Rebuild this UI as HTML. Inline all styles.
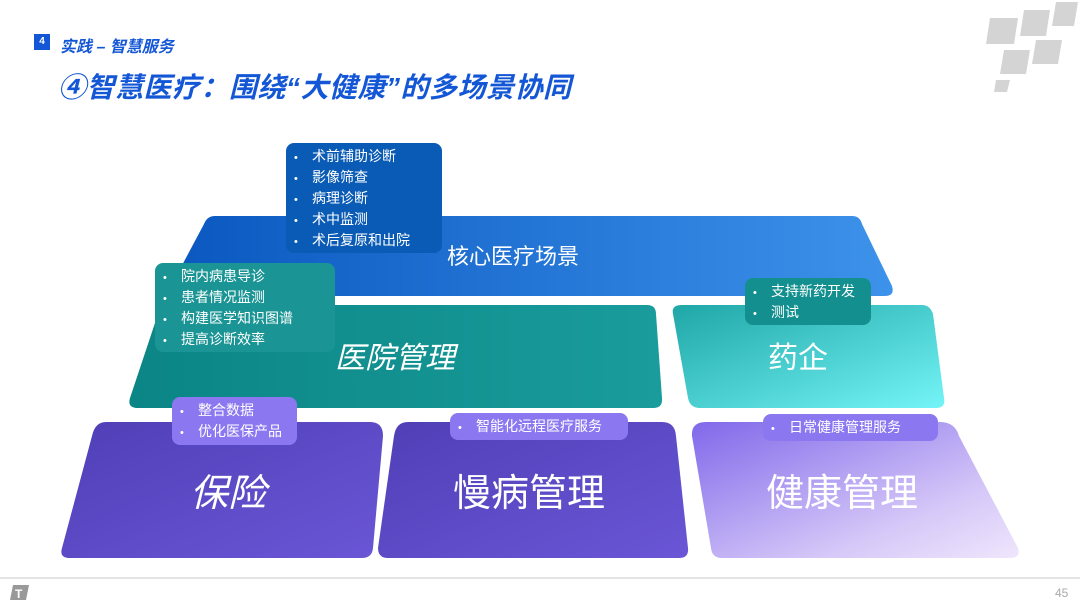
<!DOCTYPE html>
<html><head><meta charset="utf-8"><style>
body{margin:0;width:1080px;height:605px;background:#fff;overflow:hidden;position:relative;font-family:"Liberation Sans","Noto Sans CJK SC",sans-serif}
.a{position:absolute}
.bl{position:absolute;color:#fff;font-size:14px;line-height:19px;border-radius:8px;padding:4px 8px 4px 8px;box-sizing:border-box}
.bl div:before{content:"•";display:inline-block;width:18px;font-size:11px}
</style></head><body>
<div class="a" style="left:34px;top:34px;width:16px;height:16px;background:#1457d6;color:#fff;font-size:10px;text-align:center;line-height:16px;font-weight:bold">4</div>
<div class="a" style="left:60px;top:33px;font-size:16px;font-weight:bold;color:#1457d6;font-style:italic">实践 – 智慧服务</div>
<div class="a" style="left:58px;top:66px;font-size:28px;font-weight:bold;color:#1457d6;font-style:italic;letter-spacing:0.5px">④智慧医疗：围绕“大健康”的多场景协同</div>
<svg class="a" style="left:0;top:0" width="1080" height="605">
<defs>
<linearGradient id="g1" x1="0" x2="1"><stop offset="0" stop-color="#0a58c0"/><stop offset="1" stop-color="#3d92ea"/></linearGradient>
<linearGradient id="g2" x1="0" x2="1"><stop offset="0" stop-color="#0b8585"/><stop offset="1" stop-color="#1a9c9c"/></linearGradient>
<linearGradient id="g3" x1="0" y1="0" x2="1" y2="1"><stop offset="0" stop-color="#1fa6a6"/><stop offset="1" stop-color="#74f4f6"/></linearGradient>
<linearGradient id="g4" x1="0" y1="0" x2="1" y2="1"><stop offset="0" stop-color="#4f3fb6"/><stop offset="1" stop-color="#6a56d6"/></linearGradient>
<linearGradient id="g5" x1="0" y1="0" x2="1" y2="1"><stop offset="0" stop-color="#8068ea"/><stop offset="0.7" stop-color="#d6c8f8"/><stop offset="1" stop-color="#efe6fc"/></linearGradient>
</defs>
<g fill="#d4d4d4"><polygon points="990,18 1018,18 1014,44 986,44"/><polygon points="1024,10 1050,10 1046,36 1020,36"/><polygon points="1056,2 1078,2 1074,26 1052,26"/><polygon points="1004,50 1030,50 1026,74 1000,74"/><polygon points="1036,40 1062,40 1058,64 1032,64"/><polygon points="996,80 1010,80 1007,92 994,92"/></g>
<path d="M215,216 L852,216 Q860,216 862,224 L892,286 Q895,296 885,296 L178,296 Q168,296 171,286 L204,224 Q207,216 215,216Z" fill="url(#g1)"/>
<path d="M168,305 L647,305 Q656,305 656,314 L662,398 Q663,408 653,408 L138,408 Q127,408 130,398 L158,314 Q160,305 168,305Z" fill="url(#g2)"/>
<path d="M682,305 L922,305 Q930,305 933,314 L944,398 Q946,408 936,408 L700,408 Q690,408 688,398 L673,314 Q671,305 682,305Z" fill="url(#g3)"/>
<path d="M106,422 L370,422 Q383,422 383,436 L373,548 Q372,558 362,558 L70,558 Q59,558 62,548 L92,436 Q95,422 106,422Z" fill="url(#g4)"/>
<path d="M408,422 L662,422 Q675,422 676,436 L688,548 Q689,558 679,558 L388,558 Q378,558 378,548 L394,436 Q396,422 408,422Z" fill="url(#g4)"/>
<path d="M706,422 L940,422 Q955,422 959,436 L1018,548 Q1021,558 1010,558 L722,558 Q712,558 711,548 L692,436 Q691,422 706,422Z" fill="url(#g5)"/>
<line x1="0" y1="578" x2="1080" y2="578" stroke="#e4e4e4" stroke-width="2"/>
<polygon points="13,585 29,585 26,600 10,600" fill="#999"/>
<text x="15" y="598" fill="#fff" font-size="12" font-weight="bold" font-family="Liberation Sans">T</text>
<text x="1055" y="597" fill="#aaa" font-size="12" font-family="Liberation Sans">45</text>
</svg>
<div class="a" style="left:447px;top:239px;color:#fff;font-size:22px">核心医疗场景</div>
<div class="a" style="left:335px;top:333px;color:#fff;font-size:30px;font-style:italic">医院管理</div>
<div class="a" style="left:768px;top:333px;color:#fff;font-size:30px">药企</div>
<div class="a" style="left:190px;top:462px;color:#fff;font-size:38px;font-style:italic">保险</div>
<div class="a" style="left:453px;top:462px;color:#fff;font-size:38px">慢病管理</div>
<div class="a" style="left:766px;top:462px;color:#fff;font-size:38px">健康管理</div>
<div class="bl" style="left:286px;top:143px;width:156px;height:110px;background:#0a5bb5"><div>术前辅助诊断</div><div>影像筛查</div><div>病理诊断</div><div>术中监测</div><div>术后复原和出院</div></div>
<div class="bl" style="left:155px;top:263px;width:180px;height:89px;background:#1a9494"><div>院内病患导诊</div><div>患者情况监测</div><div>构建医学知识图谱</div><div>提高诊断效率</div></div>
<div class="bl" style="left:745px;top:278px;width:126px;height:47px;background:#138f8f;padding-top:4px"><div>支持新药开发</div><div>测试</div></div>
<div class="bl" style="left:172px;top:397px;width:125px;height:48px;background:#8b78f0;padding-top:4px"><div>整合数据</div><div>优化医保产品</div></div>
<div class="bl" style="left:450px;top:413px;width:178px;height:27px;background:#8b78f0;padding-top:4px"><div>智能化远程医疗服务</div></div>
<div class="bl" style="left:763px;top:414px;width:175px;height:27px;background:#8b78f0;padding-top:4px"><div>日常健康管理服务</div></div>
</body></html>
